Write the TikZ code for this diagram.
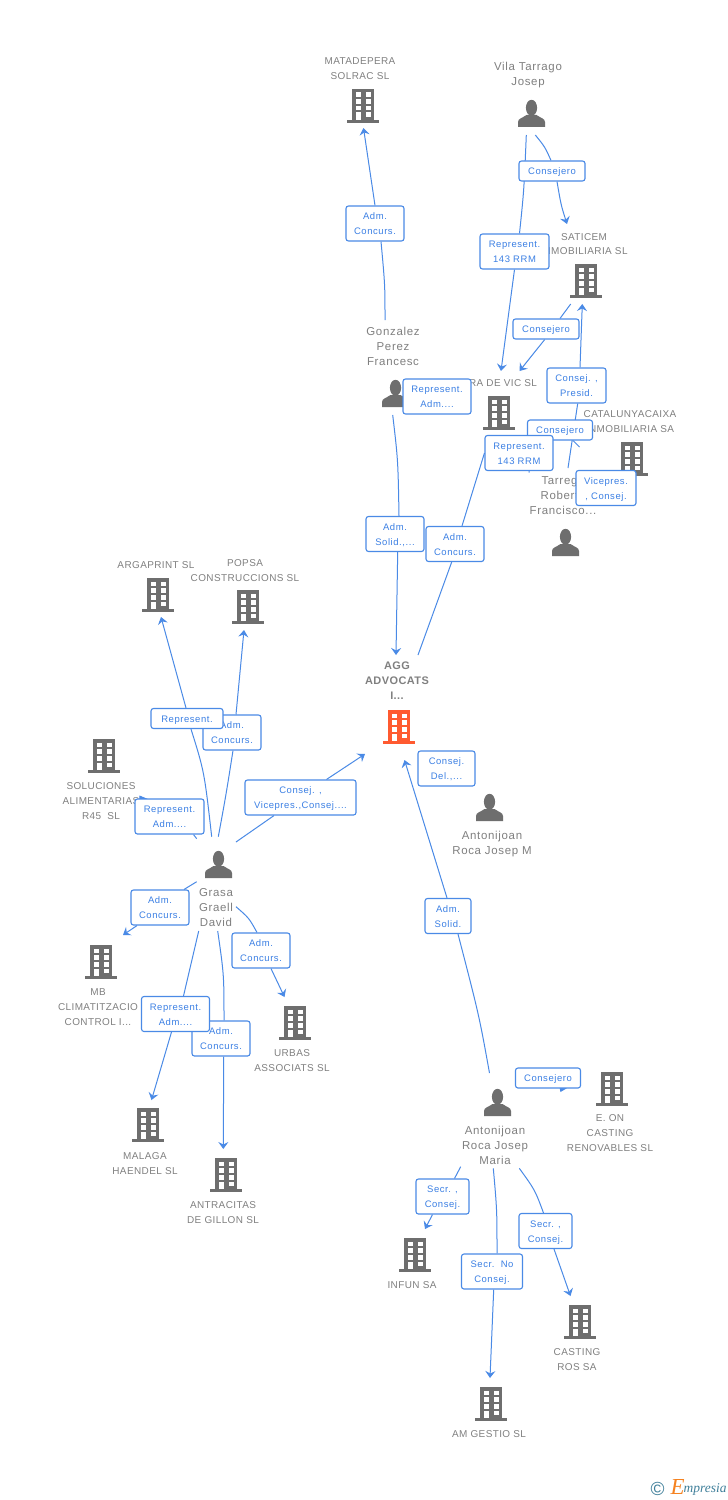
\documentclass[tikz,border=0pt]{standalone}
\usepackage{fontspec}
\setmainfont{Liberation Sans}
\newfontfamily\entfont[LetterSpace=4]{Liberation Sans}
\newfontfamily\perfont[LetterSpace=6]{Liberation Sans}
\newfontfamily\lblfont[LetterSpace=6]{Liberation Sans}
\newfontfamily\bldfont[LetterSpace=4,BoldFont={Liberation Sans Bold}]{Liberation Sans}
\newfontfamily\logofont{Liberation Serif}
\usetikzlibrary{arrows.meta,backgrounds}
\definecolor{linkblue}{HTML}{4A8AE6}
\definecolor{lbltext}{HTML}{3C80E4}
\definecolor{textgray}{HTML}{808080}
\definecolor{icongray}{HTML}{6E6E6E}
\definecolor{iconorange}{HTML}{FF5A30}
\definecolor{logoteal}{HTML}{3F7F9A}
\definecolor{logoorange}{HTML}{F58220}
\newcommand{\ml}[1]{\raisebox{-3bp}[0pt][0pt]{\begin{tabular}{@{}c@{}}#1\end{tabular}}}
\tikzset{
  x=1bp,y=-1bp,
  entity/.style={text=textgray,inner sep=0pt,yshift=-1bp,font=\entfont\fontsize{10}{15}\selectfont},
  personname/.style={entity,yshift=-0.7bp,font=\perfont\fontsize{11.5}{15}\selectfont},
  focusname/.style={entity,font=\bldfont\bfseries\fontsize{11}{15}\selectfont},
  lbl/.style={draw=linkblue,line width=1.1bp,fill=white,rounded corners=2.5bp,text=lbltext,inner sep=0pt,font=\lblfont\fontsize{9.5}{15}\selectfont},
  lbltwo/.style={lbl,minimum height=35bp},
  lblone/.style={lbl,minimum height=20bp},
  link/.style={draw=linkblue,line width=1bp},
  linkarrow/.style={link,-{Stealth[length=7bp,width=10bp,inset=2.5bp]}},
  pics/bldg/.style={code={
    \fill[#1] (-11,0) rectangle (11,31);
    \fill[#1] (-16,31) rectangle (16,33.6);
    \foreach \wy in {3.5,10.3,16.8}{
      \fill[white] (-7.5,\wy) rectangle (-2.5,\wy+4.7);
      \fill[white] (2.5,\wy) rectangle (7.5,\wy+4.7);
    }
    \fill[white] (-7.5,23.5) rectangle (-2.5,31);
    \fill[white] (2.5,23.5) rectangle (7.5,28);
  }},
  pics/person/.style={code={
    \fill[icongray] (0,7.8) ellipse (5.6 and 8);
    \fill[icongray] (-13.5,27) -- (-13.5,22) .. controls (-13.5,18.5) and (-9,18) .. (-5,15) -- (5,15) .. controls (9,18) and (13.5,18.5) .. (13.5,22) -- (13.5,27) -- cycle;
  }}
}
\begin{document}
\begin{tikzpicture}
\useasboundingbox (0,0) rectangle (728,1500);
% icons
\pic (iMat) at (363,89) {bldg=icongray};
\pic (iSat) at (586,264) {bldg=icongray};
\pic (iVer) at (499,396) {bldg=icongray};
\pic (iCat) at (632,442) {bldg=icongray};
\pic (iAgg) at (399,710) {bldg=iconorange};
\pic (iEon) at (612,1072) {bldg=icongray};
\pic (iCas) at (580,1305) {bldg=icongray};
\pic (iInf) at (415,1238) {bldg=icongray};
\pic (iGes) at (491,1387) {bldg=icongray};
\pic (iClm) at (101,945) {bldg=icongray};
\pic (iUrb) at (295,1006) {bldg=icongray};
\pic (iMal) at (148,1108) {bldg=icongray};
\pic (iAnt) at (226,1158) {bldg=icongray};
\pic (iSol) at (104,739) {bldg=icongray};
\pic (iArg) at (158,578) {bldg=icongray};
\pic (iPop) at (248,590) {bldg=icongray};
\pic (pVil) at (531.5,100) {person};
\pic (pGon) at (395.5,380) {person};
\pic (pTar) at (565.5,529) {person};
\pic (pAnM) at (489.5,794) {person};
\pic (pAnR) at (497.5,1089) {person};
\pic (pGra) at (218.5,851) {person};
% names
\node[entity] (tMat) at (360,67.5) {\ml{MATADEPERA\\SOLRAC SL}};
\node[entity] (tSat) at (584,243) {\ml{SATICEM\\INMOBILIARIA SL}};
\node[entity] (tVer) at (496,382) {\ml{VERA DE VIC SL}};
\node[entity] (tCat) at (630,420.5) {\ml{CATALUNYACAIXA\\INMOBILIARIA SA}};
\node[focusname] (tAgg) at (397,680) {\ml{AGG\\ADVOCATS\\I...}};
\node[entity] (tEon) at (610,1132) {\ml{E. ON\\CASTING\\RENOVABLES SL}};
\node[entity] (tCas) at (577,1358.5) {\ml{CASTING\\ROS SA}};
\node[entity] (tInf) at (412,1284) {\ml{INFUN SA}};
\node[entity] (tGes) at (489,1433) {\ml{AM GESTIO SL}};
\node[entity] (tClm) at (98,1006) {\ml{MB\\CLIMATITZACIO\\CONTROL I...}};
\node[entity] (tUrb) at (292,1059.5) {\ml{URBAS\\ASSOCIATS SL}};
\node[entity] (tMal) at (145,1162.5) {\ml{MALAGA\\HAENDEL SL}};
\node[entity] (tAnt) at (223,1211.5) {\ml{ANTRACITAS\\DE GILLON SL}};
\node[entity] (tSol) at (101,800) {\ml{SOLUCIONES\\ALIMENTARIAS\\R45\ \ SL}};
\node[entity] (tArg) at (156,564) {\ml{ARGAPRINT SL}};
\node[entity] (tPop) at (245,569.5) {\ml{POPSA\\CONSTRUCCIONS SL}};
\node[personname] (tVil) at (528,73.5) {\ml{Vila Tarrago\\Josep}};
\node[personname] (tGon) at (393,346) {\ml{Gonzalez\\Perez\\Francesc}};
\node[personname] (tTar) at (563,495) {\ml{Tarrega\\Roberto\\Francisco...}};
\node[personname] (tAnM) at (492,842.5) {\ml{Antonijoan\\Roca Josep M}};
\node[personname] (tAnR) at (495,1145) {\ml{Antonijoan\\Roca Josep\\Maria}};
\node[personname] (tGra) at (216,907) {\ml{Grasa\\Graell\\David}};
% labels, later ones lie over earlier ones
\node[lbltwo,minimum width=58bp] (lMat) at (375,223.5) {\ml{Adm.\\Concurs.}};
\node[lblone,minimum width=66bp] (lVilS) at (552,171) {\ml{Consejero}};
\node[lbltwo,minimum width=69bp] (lVilV) at (514.5,251.5) {\ml{Represent.\\143 RRM}};
\node[lblone,minimum width=66bp] (lSatV) at (546,329) {\ml{Consejero}};
\node[lbltwo,minimum width=59bp] (lTarS) at (576.5,385.5) {\ml{Consej. ,\\Presid.}};
\node[lblone,minimum width=65bp] (lTarV) at (560,430) {\ml{Consejero}};
\node[lbltwo,minimum width=68bp] (lTarR) at (519,453) {\ml{Represent.\\143 RRM}};
\node[lbltwo,minimum width=68bp] (lGonR) at (437,396.5) {\ml{Represent.\\Adm....}};
\node[lbltwo,minimum width=60bp] (lTarC) at (606,488) {\ml{Vicepres.\\, Consej.}};
\node[lbltwo,minimum width=58bp] (lGonA) at (395,534) {\ml{Adm.\\Solid.,...}};
\node[lbltwo,minimum width=58bp] (lVerA) at (455,544) {\ml{Adm.\\Concurs.}};
\node[lbltwo,minimum width=58bp] (lGraP) at (232,732.5) {\ml{Adm.\\Concurs.}};
\node[lblone,minimum width=72bp] (lGraA) at (187,718.5) {\ml{Represent.}};
\node[lbltwo,minimum width=111bp] (lGraG) at (300.5,797.5) {\ml{Consej. ,\\Vicepres.,Consej....}};
\node[lbltwo,minimum width=69bp] (lGraS) at (169.5,816.5) {\ml{Represent.\\Adm....}};
\node[lbltwo,minimum width=58bp] (lGraM) at (160,907.5) {\ml{Adm.\\Concurs.}};
\node[lbltwo,minimum width=58bp] (lGraU) at (261,950.5) {\ml{Adm.\\Concurs.}};
\node[lbltwo,minimum width=58bp] (lGraT) at (221,1038.5) {\ml{Adm.\\Concurs.}};
\node[lbltwo,minimum width=68bp] (lGraH) at (175.5,1014) {\ml{Represent.\\Adm....}};
\node[lbltwo,minimum width=57bp] (lAnMA) at (446.5,768.5) {\ml{Consej.\\Del.,...}};
\node[lbltwo,minimum width=46bp] (lAnRA) at (448,916) {\ml{Adm.\\Solid.}};
\node[lblone,minimum width=65bp] (lAnRE) at (548,1078) {\ml{Consejero}};
\node[lbltwo,minimum width=53bp] (lAnRI) at (442.5,1196.5) {\ml{Secr. ,\\Consej.}};
\node[lbltwo,minimum width=53bp] (lAnRC) at (545.5,1231) {\ml{Secr. ,\\Consej.}};
\node[lbltwo,minimum width=61bp] (lAnRG) at (492,1271.5) {\ml{Secr.\ \ No\\Consej.}};
% free ends of connectors
\coordinate (sGonM) at (385,320);      \coordinate (eGonM) at (363.5,128);
\coordinate (sVilS) at (535.3,135);    \coordinate (eVilS) at (567,224);
\coordinate (sVilV) at (526.3,135);    \coordinate (eVilV) at (501,371);
\coordinate (sSatV) at (570.7,304);    \coordinate (eSatV) at (519.5,371);
\coordinate (sTarS) at (568,468);      \coordinate (eTarS) at (582.3,304);
\coordinate (eTarV) at (579.5,447);
\coordinate (eTarR) at (529,472.5);
\coordinate (sGonA) at (392.7,415);    \coordinate (eGonA) at (396,655);
\coordinate (eVerA) at (418,655);
\coordinate (sGraA) at (211.7,836.7);  \coordinate (eGraA) at (161,617);
\coordinate (sGraP) at (218.3,836.7);  \coordinate (eGraP) at (244,630);
\coordinate (sGraG) at (236,842);      \coordinate (eGraG) at (365,754);
\coordinate (sGraS) at (196.7,838.7);  \coordinate (eGraS) at (139.5,795.5);
\coordinate (sGraM) at (196.7,881.7);  \coordinate (eGraM) at (123,935);
\coordinate (sGraU) at (236,906.7);    \coordinate (eGraU) at (284.5,997);
\coordinate (sGraH) at (198.7,931);    \coordinate (eGraH) at (151.5,1100);
\coordinate (sGraT) at (217.7,931);    \coordinate (eGraT) at (223.3,1149);
\coordinate (sAnRA) at (489.5,1073);   \coordinate (eAnRA) at (404.5,760);
\coordinate (eAnRE) at (560.5,1092);
\coordinate (sAnRI) at (460.7,1166.7); \coordinate (eAnRI) at (425,1229);
\coordinate (sAnRC) at (519.3,1168.3); \coordinate (eAnRC) at (570.5,1296);
\coordinate (sAnRG) at (493.3,1168.3); \coordinate (eAnRG) at (490,1378);
% logo
\node[inner sep=0pt,text=logoteal,font=\fontsize{19}{19}\selectfont] (logoC) at (657.5,1488.5) {©};
\node[inner sep=0pt,text=logoorange,font=\logofont\itshape\fontsize{23}{23}\selectfont] (logoE) at (677.5,1487) {E};
\node[inner sep=0pt,text=logoteal,anchor=west,font=\logofont\itshape\fontsize{13.5}{13.5}\selectfont] (logoT) at (683.5,1489.5) {mpresia};
% connectors, beneath everything
\begin{scope}[on background layer]
\fill[white] (0,0) rectangle (728,1500);
\draw[link] (sGonM) .. controls (385,285) .. ([xshift=6bp]lMat.south);
\draw[linkarrow] ([xshift=0bp]lMat.north) -- (eGonM);
\draw[link] (sVilS) .. controls (545,147) .. ([xshift=-1bp]lVilS.north);
\draw[linkarrow] ([xshift=5bp]lVilS.south) .. controls (561,205) .. (eVilS);
\draw[link] (sVilV) .. controls (524,190) .. ([xshift=5bp]lVilV.north);
\draw[linkarrow] ([xshift=0bp]lVilV.south) -- (eVilV);
\draw[link] (sSatV) -- ([xshift=14bp]lSatV.north);
\draw[linkarrow] ([xshift=-1.3bp]lSatV.south) -- (eSatV);
\draw[link] (sTarS) -- ([xshift=1.2bp]lTarS.south);
\draw[linkarrow] ([xshift=3.5bp]lTarS.north) -- (eTarS);
\draw[link] ([xshift=13bp]lTarV.south) -- (eTarV);
\draw[link] ([xshift=10bp]lTarR.south) -- (eTarR);
\draw[link] (sGonA) .. controls (398,460) .. ([xshift=4bp]lGonA.north);
\draw[linkarrow] ([xshift=2.7bp]lGonA.south) -- (eGonA);
\draw[link] (lTarR.west) -- ([xshift=7bp]lVerA.north);
\draw[link] ([xshift=-3.3bp]lVerA.south) -- (eVerA);
\draw[link] (sGraA) .. controls (204.3,771.6) .. ([xshift=4bp]lGraA.south);
\draw[linkarrow] ([xshift=-1bp]lGraA.north) -- (eGraA);
\draw[link] (sGraP) .. controls (226,795) .. ([xshift=1bp]lGraP.south);
\draw[linkarrow] ([xshift=4bp]lGraP.north) -- (eGraP);
\draw[link] (sGraG) -- ([xshift=-26.5bp]lGraG.south);
\draw[linkarrow] ([xshift=26bp]lGraG.north) -- (eGraG);
\draw[link] (sGraS) -- ([xshift=24bp]lGraS.south);
\draw[linkarrow] ([xshift=-17bp]lGraS.center) -- (eGraS);
\draw[link] (sGraM) -- ([xshift=24bp]lGraM.north);
\draw[linkarrow] ([xshift=-23bp]lGraM.south) -- (eGraM);
\draw[link] (sGraU) .. controls (249,918) .. ([xshift=-4bp]lGraU.north);
\draw[linkarrow] ([xshift=10bp]lGraU.south) -- (eGraU);
\draw[link] (sGraH) -- ([xshift=8bp]lGraH.north);
\draw[linkarrow] ([xshift=-4bp]lGraH.south) -- (eGraH);
\draw[link] (sGraT) .. controls (224,975) .. ([xshift=3bp]lGraT.north);
\draw[linkarrow] ([xshift=2.7bp]lGraT.south) -- (eGraT);
\draw[link] (sAnRA) .. controls (479,1015) .. ([xshift=10bp]lAnRA.south);
\draw[linkarrow] ([xshift=-1bp]lAnRA.north) -- (eAnRA);
\draw[linkarrow] ([xshift=14bp]lAnRE.south) -- (eAnRE);
\draw[link] (sAnRI) -- ([xshift=12bp]lAnRI.north);
\draw[linkarrow] ([xshift=-10bp]lAnRI.south) -- (eAnRI);
\draw[link] (sAnRC) .. controls (535,1190) .. ([xshift=-2bp]lAnRC.north);
\draw[linkarrow] ([xshift=8.5bp]lAnRC.south) -- (eAnRC);
\draw[link] (sAnRG) .. controls (497,1210) .. ([xshift=5bp]lAnRG.north);
\draw[linkarrow] ([xshift=1.7bp]lAnRG.south) -- (eAnRG);
\end{scope}
\end{tikzpicture}
\end{document}
